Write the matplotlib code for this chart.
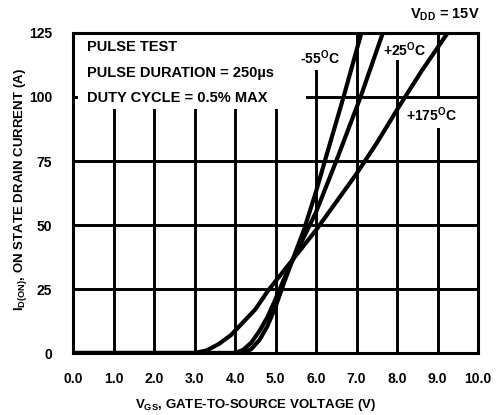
import matplotlib
matplotlib.use("Agg")
import matplotlib.pyplot as plt
from matplotlib.patches import Rectangle

plt.rcParams['font.family'] = ['Liberation Sans', 'DejaVu Sans']
plt.rcParams['font.weight'] = 'bold'
plt.rcParams['mathtext.fontset'] = 'custom'
plt.rcParams['mathtext.rm'] = 'Liberation Sans:bold'
plt.rcParams['mathtext.bf'] = 'Liberation Sans:bold'
plt.rcParams['mathtext.it'] = 'Liberation Sans:bold'

# Data
vgs_175 = [0.0, 3.0, 3.3, 3.6, 3.9, 4.2, 4.5, 4.8, 5.1, 5.5, 6.0, 6.5, 7.0, 7.5, 8.0, 8.6, 9.25]
id_175 = [0, 0, 1, 3.5, 7, 12, 17, 24, 30, 38, 48, 59, 70, 82, 95, 110, 125]

vgs_25 = [0.0, 4.0, 4.2, 4.4, 4.6, 4.8, 5.0, 5.2, 5.4, 5.6, 6.0, 6.5, 7.1, 7.65]
id_25 = [0, 0, 1.2, 4, 8.5, 14, 21, 28.5, 35.5, 42, 55, 75, 100, 125]

vgs_m55 = [0.0, 4.2, 4.4, 4.6, 4.8, 5.0, 5.2, 5.4, 5.7, 6.0, 6.2, 6.68, 7.12]
id_m55 = [0, 0, 1.5, 5, 10.5, 18, 27, 35.5, 48, 63, 74, 100, 125]

x_ticks = [0, 1, 2, 3, 4, 5, 6, 7, 8, 9, 10]
x_labels = ['0.0', '1.0', '2.0', '3.0', '4.0', '5.0', '6.0', '7.0', '8.0', '9.0', '10.0']
y_ticks = [0, 25, 50, 75, 100, 125]
y_labels = ['0', '25', '50', '75', '100', '125']

fig = plt.figure(figsize=(5.01, 4.15), dpi=100)
ax = fig.add_axes([73/501, 1-353/415, (478-73)/501, (353-33)/415])
ax.set_xlim(0, 10)
ax.set_ylim(0, 125)

GRID_LW = 2.1
for xv in x_ticks[1:-1]:
    ax.axvline(xv, color='black', lw=GRID_LW, zorder=1)
for yv in y_ticks[1:-1]:
    ax.axhline(yv, color='black', lw=GRID_LW, zorder=1)

# White areas behind annotation text
for (x0, y0, w, h) in [(0.12, 95.5, 5.63, 30), (5.55, 110.5, 0.9, 15),
                       (7.75, 114.5, 1.0, 11), (8.2, 88.0, 1.3, 11.3)]:
    ax.add_patch(Rectangle((x0, y0), w, h, facecolor='white', edgecolor='none', zorder=2))

CURVE_LW = 3.0
ax.plot(vgs_175, id_175, color='black', lw=CURVE_LW, zorder=4, solid_joinstyle='round')
ax.plot(vgs_25, id_25, color='black', lw=CURVE_LW, zorder=4, solid_joinstyle='round')
ax.plot(vgs_m55, id_m55, color='black', lw=CURVE_LW, zorder=4, solid_joinstyle='round')

for s in ax.spines.values():
    s.set_linewidth(2.2)
    s.set_zorder(5)

ax.set_xticks(x_ticks)
ax.set_xticklabels(x_labels)
ax.set_yticks(y_ticks)
ax.set_yticklabels(y_labels)
ax.tick_params(axis='both', length=0, labelsize=10)
ax.tick_params(axis='x', pad=14)
ax.tick_params(axis='y', pad=15)

fs = 10.5
ax.text(0.35, 119.5, 'PULSE TEST', fontsize=fs, fontweight='bold', va='center', ha='left', zorder=3)
ax.text(0.35, 109.4, 'PULSE DURATION = 250\u00b5s', fontsize=fs, fontweight='bold', va='center', ha='left', zorder=3)
ax.text(0.35, 99.8, 'DUTY CYCLE = 0.5% MAX', fontsize=fs, fontweight='bold', va='center', ha='left', zorder=3)

ax.text(6.1, 115.5, r'-55$^{\mathbf{O}}$C', fontsize=10, fontweight='bold', va='center', ha='center', zorder=3)
ax.text(8.2, 118.5, r'+25$^{\mathbf{O}}$C', fontsize=10, fontweight='bold', va='center', ha='center', zorder=3)
ax.text(8.85, 93, r'+175$^{\mathbf{O}}$C', fontsize=10, fontweight='bold', va='center', ha='center', zorder=3)

fig.text(480/501, 1-15/415, r'$\mathbf{V}_{\mathbf{DD}}$ = 15V', fontsize=10.5, fontweight='bold',
         ha='right', va='center')
fig.text(256/501, 1-405/415, r'$\mathbf{V}_{\mathbf{GS}}$, GATE-TO-SOURCE VOLTAGE (V)', fontsize=9.5,
         fontweight='bold', ha='center', va='center')
fig.text(21/501, 1-190/415, r'$\mathbf{I}_{\mathbf{D(ON)}}$, ON STATE DRAIN CURRENT (A)', fontsize=9.5,
         fontweight='bold', ha='center', va='center', rotation=90)

fig.savefig('out.png', dpi=100)
